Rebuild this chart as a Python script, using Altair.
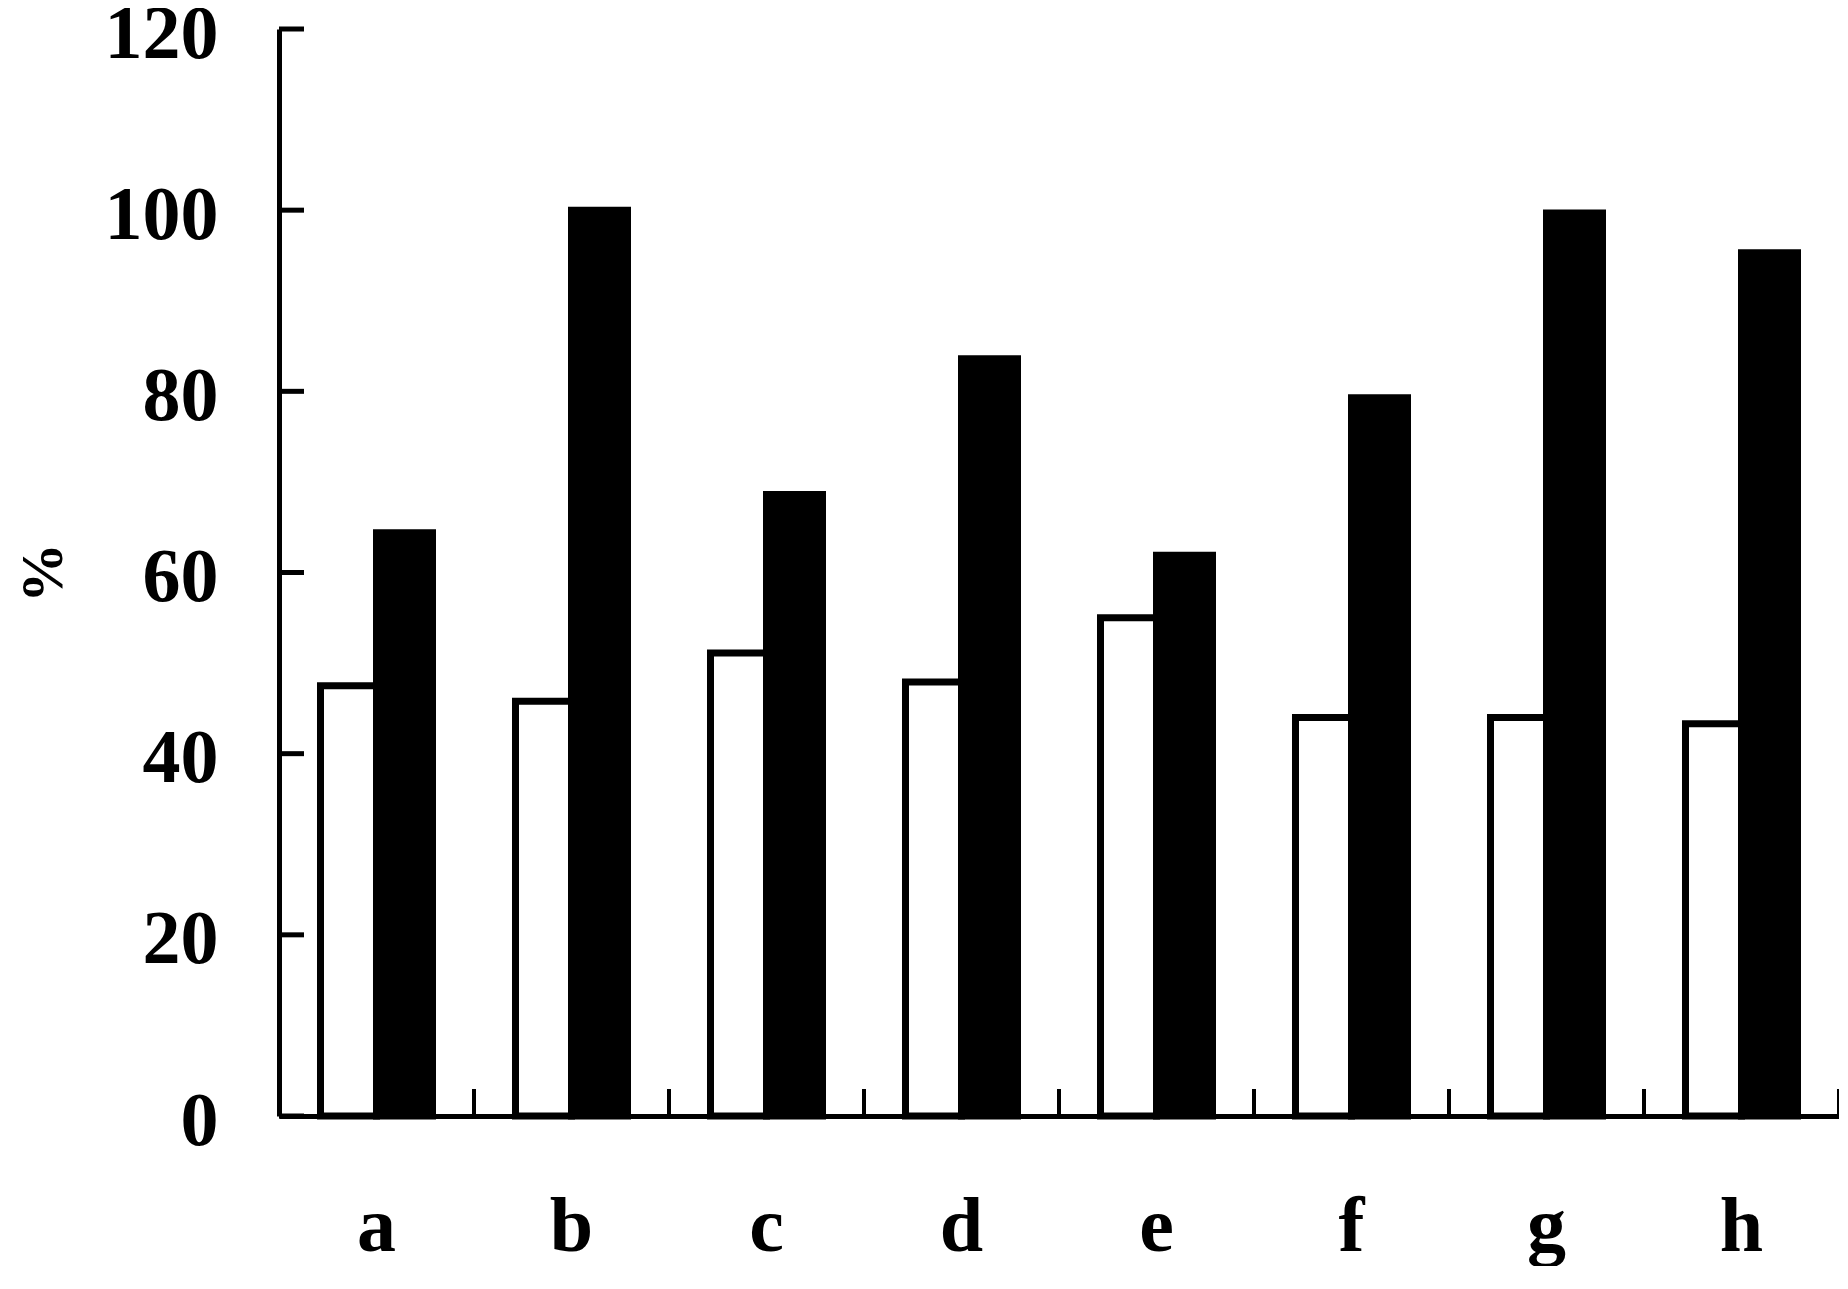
import altair as alt
import pandas as pd

categories = ["a", "b", "c", "d", "e", "f", "g", "h"]
open_values = [47.5, 45.8, 51.1, 47.9, 55.0, 44.0, 44.0, 43.3]
filled_values = [64.4, 100.0, 68.6, 83.6, 61.9, 79.3, 99.7, 95.3]
series_names = ["open", "filled"]
y_ticks = [0, 20, 40, 60, 80, 100, 120]

W, H = 1560, 1087

rows = []
for c, o, f in zip(categories, open_values, filled_values):
    rows.append({"cat": c, "series": "open", "value": o})
    rows.append({"cat": c, "series": "filled", "value": f})
df = pd.DataFrame(rows)

x_scale = alt.Scale(domain=categories, paddingInner=0, paddingOuter=0)
y_scale = alt.Scale(domain=[0, 120], nice=False, zero=True)

x_axis = alt.Axis(title=None, ticks=False, tickSize=0, labelAngle=0,
                  labelPadding=134, labelBaseline="alphabetic", domainWidth=5)
y_axis = alt.Axis(values=y_ticks, title="%", ticks=False, tickSize=0, grid=False,
                  labelPadding=61, labelOffset=5, labelFontSize=76,
                  titleX=-218, titleY=H / 2,
                  titleAngle=-90, titleBaseline="alphabetic", titleAlign="center",
                  titleFontSize=60)

bars = alt.Chart(df).mark_bar(stroke="black", strokeWidth=7, strokeJoin="miter").encode(
    x=alt.X("cat:N", scale=x_scale, sort=categories, axis=x_axis),
    xOffset=alt.XOffset("series:N", sort=series_names,
                        scale=alt.Scale(domain=series_names, paddingInner=0, paddingOuter=0.741)),
    y=alt.Y("value:Q", scale=y_scale, axis=y_axis),
    fill=alt.Fill("series:N", scale=alt.Scale(domain=series_names, range=["white", "black"]), legend=None),
)

ydf = pd.DataFrame({"value": y_ticks})
ytick = alt.Chart(ydf).mark_rule(color="black", strokeWidth=5).encode(
    y=alt.Y("value:Q", scale=y_scale, axis=y_axis),
    x=alt.value(0),
    x2=alt.value(25),
)

xdf = pd.DataFrame({"cat": categories})
xtick = alt.Chart(xdf).mark_rule(color="black", strokeWidth=4).encode(
    x=alt.X("cat:N", scale=x_scale, sort=categories, bandPosition=1, axis=x_axis),
    y=alt.value(H),
    y2=alt.value(H - 27),
)

chart = alt.layer(bars, ytick, xtick).properties(
    width=W, height=H,
    autosize=alt.AutoSizeParams(type="none"),
    padding={"left": 271, "top": 21, "right": 0, "bottom": 150},
    background="white",
).configure_view(stroke=None).configure_axis(
    labelFont="Liberation Serif", labelFontWeight="bold", labelFontSize=78,
    labelColor="black", domainColor="black", domainWidth=5,
    titleFont="Liberation Serif", titleFontWeight="bold", titleColor="black",
)

chart.save("out.html", embed_options={"renderer": "svg", "actions": False})
